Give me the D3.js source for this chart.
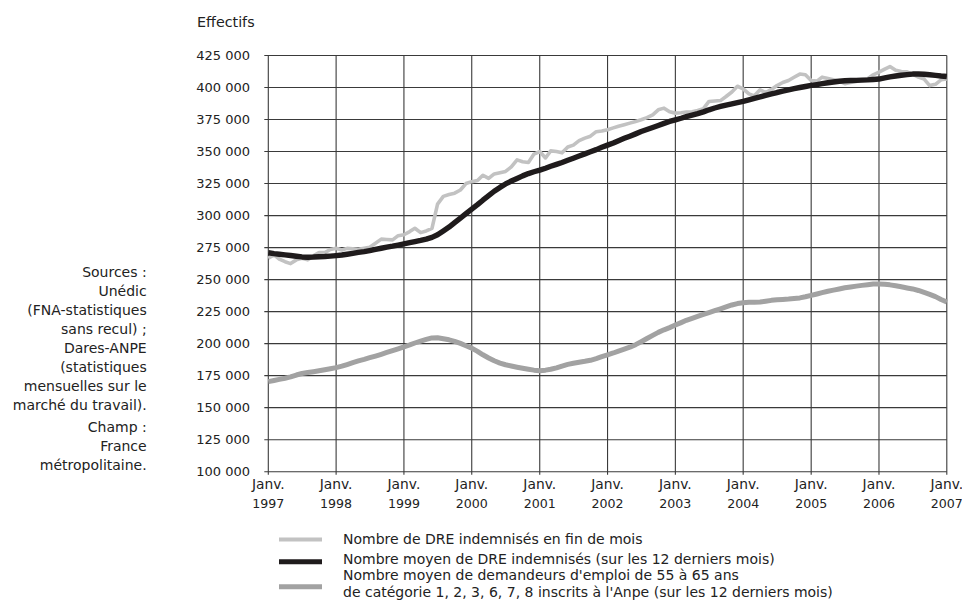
<!DOCTYPE html>
<html><head><meta charset="utf-8">
<script src="https://cdn.jsdelivr.net/npm/d3@7"></script>
<style>
body{margin:0;background:#fff}
svg{display:block}
text{font-family:"DejaVu Sans",sans-serif;fill:#222}
</style>
</head><body><svg id="c" width="962" height="609"></svg>
<script>
// ---------- DATA ----------
const startDate = new Date(1997, 0, 1);
const yearTicks = [1997,1998,1999,2000,2001,2002,2003,2004,2005,2006,2007];
const yTicks = [100000,125000,150000,175000,200000,225000,250000,275000,300000,325000,350000,375000,400000,425000];
const yAxisTitle = "Effectifs";

// Nombre de DRE indemnisés en fin de mois (monthly, Jan 1997 .. Jan 2007)
const dreFinDeMois = [
266700,269300,266000,264000,262500,265400,266700,265400,268500,271100,
271100,273500,274500,273100,274400,274000,273600,274500,275300,278400,
281600,281300,281000,284300,285000,287500,290100,286700,288000,290000,
309000,315000,316500,317500,320000,325000,326500,327400,331500,329000,
332500,333500,334500,338000,343500,342000,341500,348000,350000,345000,
350500,350000,349000,353500,355000,358500,360500,362000,365500,366000,
367000,368500,369800,371000,372200,373500,374800,376500,378700,382600,
383900,381000,380000,380300,380800,381100,382000,383500,389100,389500,
389800,393000,396500,401000,399000,395000,393500,398200,396100,398500,
401500,403900,405500,408000,410500,410000,405500,405000,408100,407000,
406000,405000,403000,404000,404700,406000,406800,409900,412000,414400,
416400,413500,412500,412200,410500,408100,406600,401500,402500,406000,
406600];

// Nombre moyen de DRE indemnisés (sur les 12 derniers mois)
const dreMoyen = [
271000,270300,269800,269300,268800,268200,267700,267500,267600,267800,
268000,268300,268700,269200,269800,270500,271200,271900,272700,273600,
274500,275300,276100,277000,277900,278800,279700,280600,281600,283000,
285000,288000,291000,294500,298000,301500,305000,308500,312000,315500,
319000,322000,324700,327000,329000,331000,332800,334200,335500,337000,
338500,340000,341500,343200,344800,346500,348200,349800,351500,353300,
355000,356700,358500,360300,362000,363800,365600,367200,368800,370400,
372000,373500,374800,376000,377200,378400,379600,381000,382600,384000,
385200,386300,387300,388200,389100,390300,391500,392700,393800,395000,
396100,397100,398100,399100,400000,400800,401600,402300,403000,403700,
404300,404900,405300,405500,405600,405800,406000,406300,406600,407500,
408300,409000,409600,410100,410500,410600,410400,410000,409500,409000,
408600];

// Nombre moyen de demandeurs d'emploi de 55 à 65 ans (sur les 12 derniers mois)
const demandeurs55_65 = [
170300,171200,172100,173000,174000,175500,176700,177400,178100,178800,
179600,180400,181300,182400,183700,185200,186500,187700,189000,190300,
191700,193100,194600,196000,197500,199000,200500,202000,203300,204500,
204600,203800,203000,201800,200200,198400,196500,194000,191300,188800,
186600,184800,183500,182500,181600,180800,180000,179300,178800,179300,
180000,181100,182500,183800,184700,185500,186200,187000,188300,189800,
191200,192700,194200,195700,197200,199200,201500,204000,206500,208800,
210800,212500,214500,216400,218200,219800,221300,222800,224200,225700,
227200,228700,230200,231300,232000,232300,232300,232500,233100,233800,
234200,234500,234800,235200,235700,236600,237700,238800,239800,240900,
241800,242700,243600,244300,244900,245500,246000,246500,246600,246300,
245900,245200,244400,243500,242700,241500,240000,238500,236700,234500,
232500];

const legendLabels = [
  ["Nombre de DRE indemnisés en fin de mois"],
  ["Nombre moyen de DRE indemnisés (sur les 12 derniers mois)"],
  ["Nombre moyen de demandeurs d'emploi de 55 à 65 ans",
   "de catégorie 1, 2, 3, 6, 7, 8 inscrits à l'Anpe (sur les 12 derniers mois)"]
];
const sourceLines = ["Sources :","Unédic","(FNA-statistiques","sans recul) ;","Dares-ANPE","(statistiques","mensuelles sur le","marché du travail)."];
const champLines = ["Champ :","France","métropolitaine."];

// ---------- CHART ----------
(function(){
const svg = d3.select("#c");
const pLeft = 268.3, pRight = 946.8, pTop = 55.5, pBottom = 471.7;

const x = d3.scaleTime()
  .domain([new Date(yearTicks[0],0,1), new Date(yearTicks[yearTicks.length-1],0,1)])
  .range([pLeft, pRight]);
const y = d3.scaleLinear().domain([100000, 425000]).range([pBottom, pTop]);

const fr = d3.formatLocale({decimal:",", thousands:" ", grouping:[3], currency:["","€"]});
const fmt = fr.format(",");

const monthDate = i => d3.timeMonth.offset(startDate, i);

// Grid
const grid = svg.append("g").attr("stroke","#3a3a3a").attr("stroke-width",1.1).attr("fill","none");
grid.selectAll("line.h").data(yTicks).join("line")
  .attr("x1", pLeft-4).attr("x2", pRight).attr("y1", d=>y(d)).attr("y2", d=>y(d));
grid.selectAll("line.v").data(yearTicks).join("line")
  .attr("x1", d=>x(new Date(d,0,1))).attr("x2", d=>x(new Date(d,0,1)))
  .attr("y1", pTop).attr("y2", pBottom+3);

// Y labels
svg.append("g").selectAll("text").data(yTicks).join("text")
  .attr("x", 250).attr("y", d=>y(d)+4.6)
  .attr("text-anchor","end").attr("font-size",13).text(d=>fmt(d));

// X labels
const xl = svg.append("g").selectAll("g").data(yearTicks).join("g")
  .attr("transform", d=>`translate(${x(new Date(d,0,1))},0)`);
xl.append("text").attr("y",489).attr("text-anchor","middle").attr("font-size",13.8).text("Janv.");
xl.append("text").attr("y",508).attr("text-anchor","middle").attr("font-size",12.6).text(d=>d);

// Title
svg.append("text").attr("x",197).attr("y",26.5).attr("font-size",14.3).text(yAxisTitle);

// Lines
const line = d3.line().x((d,i)=>x(monthDate(i))).y(d=>y(d));
svg.append("path").datum(dreFinDeMois).attr("d",line)
  .attr("fill","none").attr("stroke","#c2c2c2").attr("stroke-width",3.6).attr("stroke-linejoin","round");
svg.append("path").datum(dreMoyen).attr("d",line)
  .attr("fill","none").attr("stroke","#1f1b1c").attr("stroke-width",5.4).attr("stroke-linejoin","round");
svg.append("path").datum(demandeurs55_65).attr("d",line)
  .attr("fill","none").attr("stroke","#a2a2a2").attr("stroke-width",5).attr("stroke-linejoin","round");

// Legend
const legStyles = [
  {color:"#c2c2c2", w:3.8, ly:539.5, ty:[544.3]},
  {color:"#1f1b1c", w:5,   ly:561.7, ty:[563.5]},
  {color:"#a2a2a2", w:5,   ly:586.7, ty:[580.2,597.3]}
];
legendLabels.forEach((lines,i)=>{
  const s = legStyles[i];
  svg.append("line").attr("x1",279).attr("x2",322).attr("y1",s.ly).attr("y2",s.ly)
    .attr("stroke",s.color).attr("stroke-width",s.w);
  lines.forEach((t,j)=>{
    svg.append("text").attr("x",343).attr("y",s.ty[j]).attr("font-size",14).text(t);
  });
});

// Sources block
svg.append("g").selectAll("text").data(sourceLines).join("text")
  .attr("x",146.7).attr("y",(d,i)=>276.7+i*19).attr("text-anchor","end").attr("font-size",14).text(d=>d);
svg.append("g").selectAll("text").data(champLines).join("text")
  .attr("x",146.7).attr("y",(d,i)=>276.7+8*19+3+i*19).attr("text-anchor","end").attr("font-size",14).text(d=>d);
})();
</script>
</body></html>
